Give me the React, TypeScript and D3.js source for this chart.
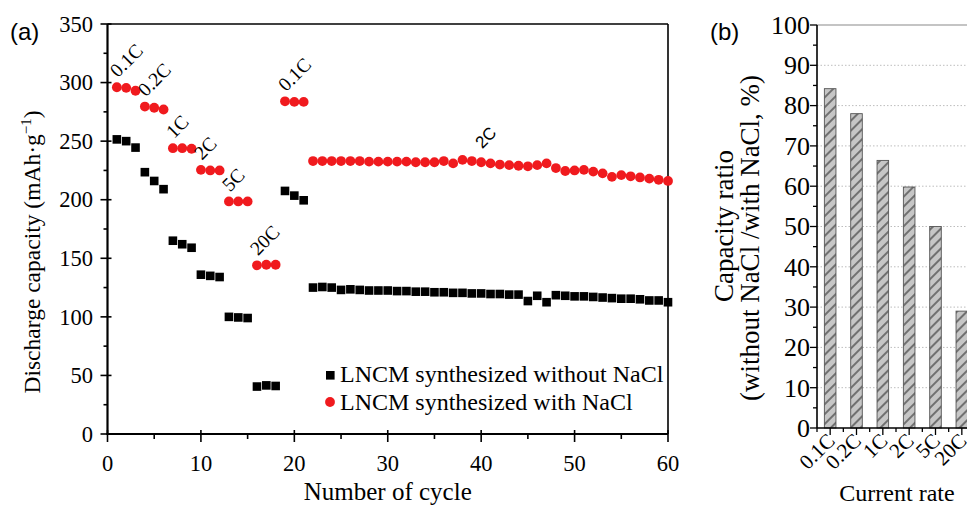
import React, { useEffect, useRef } from 'react';
import * as d3 from 'd3';

// discharge capacity (mAh/g) per cycle, cycles 1..60
const withoutNaCl = [
  251.5, 250, 244.5, 223.5, 216, 209, 165, 162, 159, 136, 135, 134,
  100, 99.5, 99, 40.5, 41.5, 41, 207.5, 203.5, 199.5,
  125, 125.5, 125, 123, 123.5, 123, 122.5, 122.5, 122.5, 122, 122, 121.5, 121.5,
  121, 121, 120.5, 120.5, 120, 120, 119.5, 119.5, 119, 119, 113.5, 118, 112.5,
  118.5, 118, 117.5, 117.5, 117, 116.5, 116, 115.5, 115.5, 115, 114, 114, 112.5
];
const withNaCl = [
  296, 295.5, 293, 279.5, 278.5, 277, 244, 244, 243.5, 225.5, 225, 225,
  198.5, 198.5, 198.5, 144, 144.5, 144.5, 284, 283.5, 283.5,
  233, 233, 233, 233, 233, 233, 232.5, 232.5, 232.5, 232.5, 232.5, 232, 232,
  232, 233, 231, 234, 233, 232, 231, 230, 229.5, 229, 228.5, 229.5, 231,
  227, 224.5, 225, 225.5, 224, 222.5, 219.5, 221, 220, 219, 218, 217, 216
];
// rate labels and the cycle they sit above
const rateLabels = ['0.1C', '0.2C', '1C', '2C', '5C', '20C', '0.1C', '2C'];
const rateCycles = [1, 4, 7, 10, 13, 16, 19, 40];

// panel (b)
const rates = ['0.1C', '0.2C', '1C', '2C', '5C', '20C'];
const ratio = [84.2, 78, 66.4, 59.8, 50, 29];

const W = 967, H = 505;
const serif = '"Liberation Serif", "Times New Roman", serif';
const sans = '"Liberation Sans", Arial, sans-serif';

const App = () => {
  const svgRef = useRef(null);

  useEffect(() => {
    document.body.style.margin = '0';
    const svg = d3.select(svgRef.current);
    svg.selectAll('*').remove();

    // ---------- panel (a) ----------
    const x = d3.scaleLinear().domain([0, 60]).range([107.5, 668]);
    const y = d3.scaleLinear().domain([0, 350]).range([434, 24]);
    const ga = svg.append('g');

    // frame top / right
    ga.append('line').attr('x1', x(0)).attr('x2', x(60)).attr('y1', y(350)).attr('y2', y(350))
      .attr('stroke', '#000').attr('stroke-width', 1.6);
    ga.append('line').attr('x1', x(60)).attr('x2', x(60)).attr('y1', y(350)).attr('y2', y(0))
      .attr('stroke', '#000').attr('stroke-width', 1.6);

    // y axis
    ga.append('line').attr('x1', x(0)).attr('x2', x(0)).attr('y1', y(350)).attr('y2', y(0) + 1)
      .attr('stroke', '#000').attr('stroke-width', 2.2);
    d3.range(0, 351, 25).forEach(v => {
      const major = v % 50 === 0;
      ga.append('line').attr('x1', x(0) - (major ? 7 : 4)).attr('x2', x(0) + (major ? 4 : 0))
        .attr('y1', y(v)).attr('y2', y(v)).attr('stroke', '#000').attr('stroke-width', 1.6);
      if (major) {
        ga.append('text').attr('x', 93).attr('y', y(v)).attr('dy', '0.34em')
          .attr('text-anchor', 'end').style('font-family', serif).style('font-size', '22.5px')
          .text(v);
      }
    });

    // x axis
    ga.append('line').attr('x1', x(0) - 1).attr('x2', x(60)).attr('y1', y(0)).attr('y2', y(0))
      .attr('stroke', '#000').attr('stroke-width', 2.2);
    d3.range(0, 61, 5).forEach(v => {
      const major = v % 10 === 0;
      ga.append('line').attr('x1', x(v)).attr('x2', x(v))
        .attr('y1', y(0) - (major ? 4 : 0)).attr('y2', y(0) + (major ? 8 : 5))
        .attr('stroke', '#000').attr('stroke-width', 1.6);
      if (major) {
        ga.append('text').attr('x', x(v)).attr('y', 471)
          .attr('text-anchor', 'middle').style('font-family', serif).style('font-size', '22.5px')
          .text(v);
      }
    });

    ga.append('text').attr('x', (x(0) + x(60)) / 2).attr('y', 500)
      .attr('text-anchor', 'middle').style('font-family', serif).style('font-size', '25px')
      .text('Number of cycle');

    const yl = ga.append('text').attr('transform', 'translate(40,252) rotate(-90)')
      .attr('text-anchor', 'middle').style('font-family', serif).style('font-size', '23.5px');
    yl.append('tspan').text('Discharge capacity (mAh·g');
    yl.append('tspan').attr('dy', -9).style('font-size', '15px').text('−1');
    yl.append('tspan').attr('dy', 9).text(')');

    // series
    ga.selectAll('.sq').data(withoutNaCl).enter().append('rect')
      .attr('x', (d, i) => x(i + 1) - 4.3).attr('y', d => y(d) - 4.3)
      .attr('width', 8.6).attr('height', 8.6).attr('fill', '#000');
    ga.selectAll('.dot').data(withNaCl).enter().append('circle')
      .attr('cx', (d, i) => x(i + 1)).attr('cy', d => y(d)).attr('r', 4.9)
      .attr('fill', '#f01a1e');

    // rate annotations
    rateLabels.forEach((lab, k) => {
      const c = rateCycles[k];
      const last = k === rateLabels.length - 1;
      ga.append('text')
        .attr('transform', `translate(${x(c) + 1},${y(withNaCl[c - 1]) - (last ? 13 : 9)}) rotate(-45)`)
        .style('font-family', last ? sans : serif).style('font-size', last ? '17px' : '19.5px')
        .text(lab);
    });

    // legend
    ga.append('rect').attr('x', 326).attr('y', 371).attr('width', 8.6).attr('height', 8.6).attr('fill', '#000');
    ga.append('circle').attr('cx', 330).attr('cy', 402).attr('r', 4.9).attr('fill', '#f01a1e');
    ga.append('text').attr('x', 340).attr('y', 382).style('font-family', serif).style('font-size', '24px')
      .text('LNCM synthesized without NaCl');
    ga.append('text').attr('x', 340).attr('y', 410).style('font-family', serif).style('font-size', '24px')
      .text('LNCM synthesized with NaCl');

    ga.append('text').attr('x', 10).attr('y', 40).style('font-family', sans).style('font-size', '24px').text('(a)');

    // ---------- panel (b) ----------
    const xb = d3.scaleBand().domain(rates).range([817, 975]).paddingInner(0.56).paddingOuter(0.28);
    const yb = d3.scaleLinear().domain([0, 100]).range([428, 25]);
    const gb = svg.append('g');

    const defs = svg.append('defs');
    const pat = defs.append('pattern').attr('id', 'hatch').attr('patternUnits', 'userSpaceOnUse')
      .attr('width', 7).attr('height', 7).attr('patternTransform', 'rotate(45)');
    pat.append('rect').attr('width', 7).attr('height', 7).attr('fill', '#c6c6c6');
    pat.append('line').attr('x1', 1).attr('x2', 1).attr('y1', 0).attr('y2', 7)
      .attr('stroke', '#2a2a2a').attr('stroke-width', 1.1);

    // grid
    d3.range(10, 100, 10).forEach(v => {
      gb.append('line').attr('x1', 817).attr('x2', W).attr('y1', yb(v)).attr('y2', yb(v))
        .attr('stroke', '#bdbdbd').attr('stroke-width', 1).attr('stroke-dasharray', '1.5,2');
    });
    gb.append('line').attr('x1', 817).attr('x2', W).attr('y1', yb(100)).attr('y2', yb(100))
      .attr('stroke', '#8a8a8a').attr('stroke-width', 1.2);

    gb.selectAll('.bar').data(ratio).enter().append('rect')
      .attr('x', (d, i) => xb(rates[i])).attr('y', d => yb(d))
      .attr('width', xb.bandwidth()).attr('height', d => yb(0) - yb(d))
      .attr('fill', 'url(#hatch)').attr('stroke', '#555').attr('stroke-width', 0.9);

    // y axis b
    gb.append('line').attr('x1', 817).attr('x2', 817).attr('y1', yb(100)).attr('y2', yb(0))
      .attr('stroke', '#000').attr('stroke-width', 1.6);
    d3.range(0, 101, 5).forEach(v => {
      const major = v % 10 === 0;
      gb.append('line').attr('x1', 817 - (major ? 7 : 4)).attr('x2', 817)
        .attr('y1', yb(v)).attr('y2', yb(v)).attr('stroke', '#000').attr('stroke-width', 1.3);
      if (major) {
        gb.append('text').attr('x', 810).attr('y', yb(v)).attr('dy', '0.34em')
          .attr('text-anchor', 'end').style('font-family', serif).style('font-size', '26px')
          .text(v);
      }
    });

    // x axis b
    gb.append('line').attr('x1', 817).attr('x2', W).attr('y1', yb(0)).attr('y2', yb(0))
      .attr('stroke', '#000').attr('stroke-width', 1.6);
    rates.forEach((r, i) => {
      const cx = xb(r) + xb.bandwidth() / 2;
      gb.append('line').attr('x1', cx).attr('x2', cx).attr('y1', yb(0)).attr('y2', yb(0) + 7)
        .attr('stroke', '#000').attr('stroke-width', 1.3);
      const edge = xb(r) - xb.step() * 0.28;
      gb.append('line').attr('x1', edge).attr('x2', edge).attr('y1', yb(0)).attr('y2', yb(0) + 4)
        .attr('stroke', '#000').attr('stroke-width', 1.3);
      gb.append('text').attr('transform', `translate(${cx + 6},${yb(0) + 14}) rotate(-45)`)
        .attr('text-anchor', 'end').style('font-family', serif).style('font-size', '21px')
        .text(r);
    });

    gb.append('text').attr('x', 897).attr('y', 501).attr('text-anchor', 'middle')
      .style('font-family', serif).style('font-size', '24px').text('Current rate');

    gb.append('text').attr('transform', 'translate(733,226) rotate(-90)').attr('text-anchor', 'middle')
      .style('font-family', serif).style('font-size', '27px').text('Capacity ratio');
    gb.append('text').attr('transform', 'translate(759,238) rotate(-90)').attr('text-anchor', 'middle')
      .style('font-family', serif).style('font-size', '27px').text('(without NaCl /with NaCl, %)');

    gb.append('text').attr('x', 710).attr('y', 40).style('font-family', sans).style('font-size', '24px').text('(b)');
  }, []);

  return <svg ref={svgRef} width={W} height={H} style={{ display: 'block', background: '#fff' }} />;
};

export default App;
